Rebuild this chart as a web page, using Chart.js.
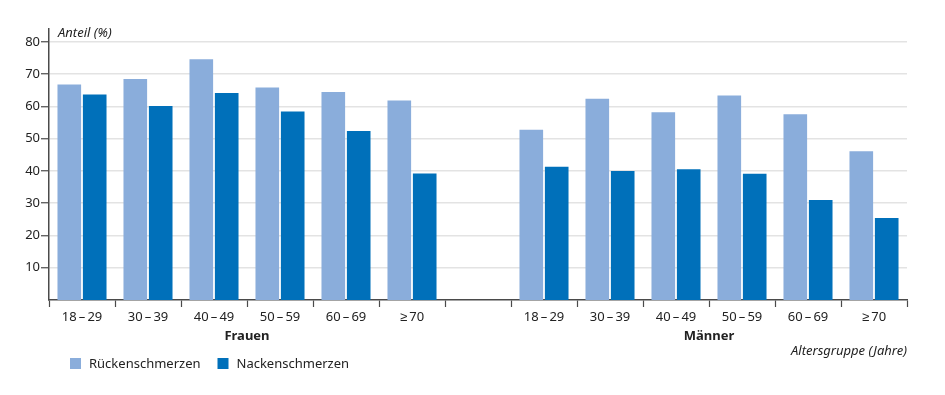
<!DOCTYPE html>
<html lang="de">
<head>
<meta charset="utf-8">
<title>Rücken- und Nackenschmerzen nach Altersgruppe</title>
<script src="https://cdn.jsdelivr.net/npm/chart.js@4.4.1/dist/chart.umd.min.js"></script>
<style>
    html, body { margin: 0; padding: 0; background: #fff; }
    #wrap { width: 945px; height: 395px; position: relative; }
</style>
</head>
<body>
<div id="wrap"><canvas id="painChart"></canvas></div>
<script>
// age groups, women first, an empty slot, then men
const ageGroups = ["18\u2009\u2013\u200929", "30\u2009\u2013\u200939", "40\u2009\u2013\u200949", "50\u2009\u2013\u200959", "60\u2009\u2013\u200969", "\u2265\u200970"];
const sexes = ["Frauen", "Männer"];
const categories = [...ageGroups, "", ...ageGroups];

const backPain = [66.8, 68.5, 74.6, 65.9, 64.5, 61.8, null, 52.8, 62.4, 58.2, 63.4, 57.6, 46.1];
const neckPain = [63.7, 60.1, 64.2, 58.4, 52.4, 39.2, null, 41.3, 40.0, 40.5, 39.1, 31.0, 25.4];
const seriesNames = ["Rückenschmerzen", "Nackenschmerzen"];
const yTicks = [10, 20, 30, 40, 50, 60, 70, 80];

const FONT = "'Noto Sans', sans-serif";
const AXIS = "#4a4a4a";
const TEXT = "#222";

const extraText = {
    id: "extraText",
    afterDraw(chart) {
        const ctx = chart.ctx;
        const x = chart.scales.x;
        const area = chart.chartArea;
        ctx.save();
        ctx.fillStyle = TEXT;
        ctx.textBaseline = "middle";

        // y axis title
        ctx.font = "italic 13px " + FONT;
        ctx.textAlign = "left";
        ctx.fillText("Anteil (%)", 58, 33);

        // group labels under the age groups
        ctx.font = "bold 13px " + FONT;
        ctx.textAlign = "center";
        const n = ageGroups.length;
        ctx.fillText(sexes[0], (x.getPixelForValue(0) + x.getPixelForValue(n - 1)) / 2, 336);
        ctx.fillText(sexes[1], (x.getPixelForValue(n + 1) + x.getPixelForValue(2 * n)) / 2, 336);

        // x axis title
        ctx.font = "italic 13px " + FONT;
        ctx.textAlign = "right";
        ctx.fillText("Altersgruppe (Jahre)", area.right, 351);

        // legend
        ctx.font = "13px " + FONT;
        ctx.textAlign = "left";
        let lx = 70;
        chart.data.datasets.forEach(ds => {
            ctx.fillStyle = ds.backgroundColor;
            ctx.fillRect(lx, 358, 11, 11);
            ctx.fillStyle = TEXT;
            ctx.fillText(ds.label, lx + 19, 364);
            lx += 19 + ctx.measureText(ds.label).width + 17;
        });
        ctx.restore();
    }
};

const ctx = document.getElementById("painChart").getContext("2d");
new Chart(ctx, {
    type: "bar",
    data: {
        labels: categories,
        datasets: [
            { label: seriesNames[0], data: backPain, backgroundColor: "#8aaddb" },
            { label: seriesNames[1], data: neckPain, backgroundColor: "#0070ba" }
        ]
    },
    options: {
        responsive: true,
        maintainAspectRatio: false,
        animation: false,
        events: [],
        categoryPercentage: 0.77,
        barPercentage: 0.93,
        layout: { padding: { left: 0, right: 38, top: 29, bottom: 0 } },
        plugins: { legend: { display: false }, tooltip: { enabled: false } },
        scales: {
            x: {
                type: "category",
                offset: true,
                afterFit: s => { s.height = 95; },
                grid: { offset: true, drawOnChartArea: false, drawTicks: true, tickLength: 7, tickColor: AXIS, tickWidth: 1.2 },
                border: { display: true, color: AXIS, width: 1.5 },
                ticks: { font: { family: FONT, size: 13 }, color: TEXT, padding: 2, maxRotation: 0, autoSkip: false }
            },
            y: {
                min: 0,
                max: 84,
                afterFit: s => { s.width = 49; },
                afterBuildTicks: s => { s.ticks = yTicks.map(v => ({ value: v })); },
                grid: { color: "#e3e3e3", lineWidth: 1.5, drawTicks: true, tickLength: 8, tickColor: AXIS, tickWidth: 1.2 },
                border: { display: true, color: AXIS, width: 1.5 },
                ticks: { font: { family: FONT, size: 13 }, color: TEXT, padding: 1 }
            }
        }
    },
    plugins: [extraText]
});
</script>
</body>
</html>
